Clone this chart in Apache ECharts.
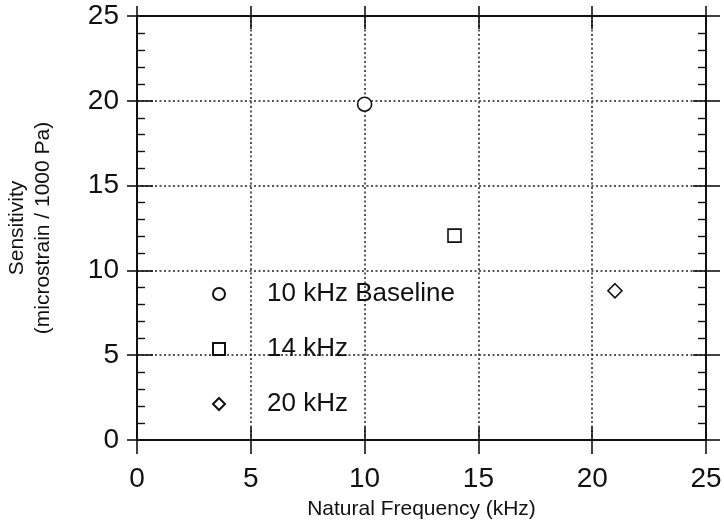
<!DOCTYPE html>
<html>
<head>
<meta charset="utf-8">
<script src="https://cdn.jsdelivr.net/npm/echarts@6/dist/echarts.min.js"></script>
<style>
  html, body { margin: 0; padding: 0; background: #fff; }
  #chart { width: 724px; height: 525px; }
</style>
</head>
<body>
<div id="chart"></div>
<script>
// data
var seriesNames = ['10 kHz Baseline', '14 kHz', '20 kHz'];
var freqKHz = [10.0, 13.95, 21.0];
var sensitivity = [19.8, 12.05, 8.8];

var ink = '#111';
var font = 'Liberation Sans';
var box = { left: 137, right: 18, top: 16, bottom: 85 };

function gridBox(){
	return { left: box.left, right: box.right, top: box.top, bottom: box.bottom, outerBoundsMode: 'none', containLabel: false };
}

// one axis, ticks go one way only, so the crossing ticks are two axes on top of each other
function axis(grid, pos, opt){
	var a = {
		type: 'value',
		gridIndex: grid,
		position: pos,
		min: 0,
		max: 25,
		interval: 5,
		axisLine: { show: opt.line, onZero: false, lineStyle: { color: ink, width: 2 } },
		axisTick: { show: true, inside: opt.inside, length: opt.len, lineStyle: { color: ink, width: 1.6 } },
		minorTick: { show: !!opt.minor, splitNumber: 5, length: 8, lineStyle: { color: ink, width: 1.4 } },
		axisLabel: { show: false },
		splitLine: { show: false }
	};
	if(opt.labels){
		a.axisLabel = { show: true, color: ink, fontFamily: font, fontSize: 28, margin: opt.margin };
	}
	if(opt.split){
		a.splitLine = { show: true, lineStyle: { color: '#222', width: 1.5, type: [2, 2.5] } };
	}
	return a;
}

var xAxes = [
	axis(0, 'bottom', { line: true, inside: false, len: 14, labels: true, margin: 25, split: true }),
	axis(1, 'bottom', { line: false, inside: true, len: 13 }),
	axis(2, 'top', { line: true, inside: false, len: 10 }),
	axis(3, 'top', { line: false, inside: true, len: 13 })
];
var yAxes = [
	axis(0, 'left', { line: true, inside: false, len: 10, labels: true, margin: 18, split: true }),
	axis(1, 'left', { line: false, inside: true, len: 16, minor: true }),
	axis(2, 'right', { line: true, inside: false, len: 14 }),
	axis(3, 'right', { line: false, inside: true, len: 13, minor: true })
];

xAxes[0].name = 'Natural Frequency (kHz)';
xAxes[0].nameLocation = 'middle';
xAxes[0].nameGap = 59;
xAxes[0].nameTextStyle = { color: ink, fontFamily: font, fontSize: 21 };

yAxes[0].name = 'Sensitivity\n(microstrain / 1000 Pa)';
yAxes[0].nameLocation = 'middle';
yAxes[0].nameGap = 81;
yAxes[0].nameTextStyle = { color: ink, fontFamily: font, fontSize: 21, lineHeight: 26, align: 'center' };

var symbols = ['circle', 'rect', 'diamond'];
var sizes = [14, 13, 14];

var series = [];
for(var i = 0; i < seriesNames.length; i++){
	series.push({
		name: seriesNames[i],
		type: 'scatter',
		xAxisIndex: 0,
		yAxisIndex: 0,
		symbol: symbols[i],
		symbolSize: sizes[i],
		itemStyle: { color: '#fff', borderColor: ink, borderWidth: 1.6, opacity: 1 },
		data: [[freqKHz[i], sensitivity[i]]]
	});
}

var myChart = echarts.init(document.getElementById('chart'), null, { renderer: 'canvas' });
myChart.setOption({
	animation: false,
	backgroundColor: '#fff',
	grid: [gridBox(), gridBox(), gridBox(), gridBox()],
	xAxis: xAxes,
	yAxis: yAxes,
	legend: {
		orient: 'vertical',
		left: 207,
		top: 276,
		itemWidth: 12,
		itemHeight: 12,
		itemGap: 29,
		selectedMode: false,
		textStyle: { color: ink, fontFamily: font, fontSize: 26, lineHeight: 24, padding: [0, 0, 0, 37] },
		data: seriesNames
	},
	series: series
});
</script>
</body>
</html>
